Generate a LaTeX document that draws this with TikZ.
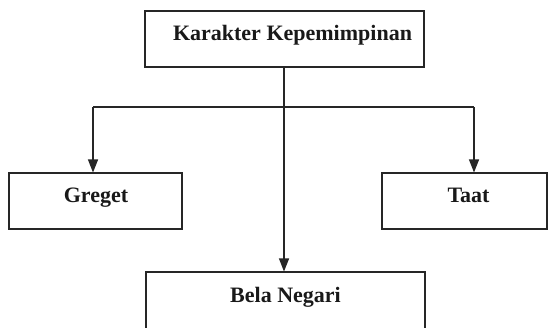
\documentclass[tikz,border=0pt]{standalone}
\usepackage{fontspec}
\setmainfont{Liberation Serif}
\usetikzlibrary{arrows.meta}
\begin{document}
\begin{tikzpicture}[x=1pt,y=-1pt,
  box/.style={draw=black!85, line width=1.1pt, rectangle, inner sep=0pt},
  lbl/.style={anchor=base, inner sep=0pt, font=\fontsize{22}{26}\selectfont\bfseries, text=black!90},
  conn/.style={draw=black!85, line width=1.2pt},
  arr/.style={conn, -{Triangle[length=13pt,width=10pt]}}]
\useasboundingbox[fill=white] (0,0) rectangle (548,327);
% boxes
\node[box, minimum width=279pt, minimum height=56pt] (top) at (284.5,39) {};
\node[box, minimum width=173pt, minimum height=56pt] (greget) at (95.5,201) {};
\node[box, minimum width=165pt, minimum height=56pt] (taat) at (464.5,201) {};
\node[box, minimum width=279pt, minimum height=64pt] (bela) at (285.5,304) {};
% labels
\node[lbl] (tTop) at (292.5,40) {Karakter Kepemimpinan};
\node[lbl] (tGreget) at (96,202) {Greget};
\node[lbl] (tTaat) at (468.5,202) {Taat};
\node[lbl] (tBela) at (285.5,302) {Bela Negari};
% connectors
\coordinate (jl) at (93,107);
\coordinate (jr) at (474,107);
\draw[conn] (jl) -- (jr);
\draw[arr] (jl) -- (jl |- greget.north);
\draw[arr] (jr) -- (jr |- taat.north);
\draw[arr] (top.south -| 284,0) -- (284,0 |- bela.north);
\end{tikzpicture}
\end{document}
